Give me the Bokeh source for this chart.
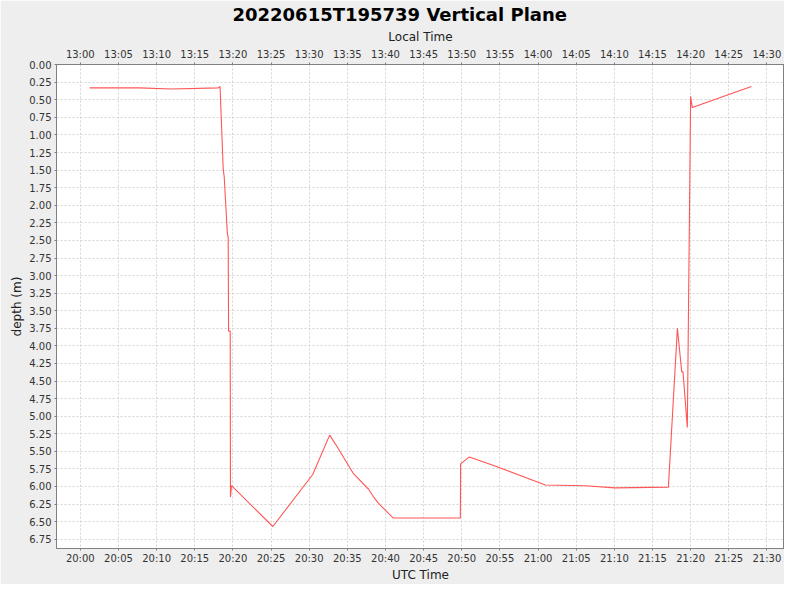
import pandas as pd
from bokeh.plotting import figure
from bokeh.models import (Range1d, DatetimeAxis, SingleIntervalTicker, DatetimeTickFormatter,
                          NumeralTickFormatter, ColumnDataSource)
from bokeh.embed import file_html
from bokeh.resources import INLINE

TITLE = "20220615T195739 Vertical Plane"
DATE = "2022-06-15"
LOCAL_OFFSET_HOURS = -7

utc_times = [
    "20:01:13", "20:07:42", "20:12:00", "20:18:05", "20:18:19", "20:18:44", "20:18:52",
    "20:19:16", "20:19:23", "20:19:26", "20:19:39", "20:19:41", "20:19:49", "20:25:14",
    "20:30:28", "20:32:41", "20:33:41", "20:35:45", "20:37:47", "20:38:31", "20:39:05",
    "20:41:02", "20:49:49", "20:49:51", "20:50:18", "20:50:59", "20:54:22", "21:00:57",
    "21:06:10", "21:10:04", "21:17:05", "21:18:16", "21:18:50", "21:19:00", "21:19:34",
    "21:20:00", "21:20:13", "21:27:58",
]
depths = [
    0.33, 0.33, 0.345, 0.33, 0.31, 1.49, 1.60,
    2.39, 2.46, 3.79, 3.79, 6.15, 5.99, 6.57,
    5.83, 5.27, 5.44, 5.81, 6.04, 6.16, 6.24,
    6.45, 6.45, 5.68, 5.64, 5.58, 5.71, 5.98,
    5.99, 6.02, 6.01, 3.75, 4.37, 4.37, 5.16,
    0.45, 0.61, 0.31,
]

t = pd.to_datetime([f"{DATE} {s}" for s in utc_times])
src = ColumnDataSource(dict(t=t, d=depths))

# auto range with 5% margins like the source chart
t_ms = t.astype("int64") // 10**6
tmin, tmax = int(t_ms.min()), int(t_ms.max())
tpad = 0.05 * (tmax - tmin)
dmin, dmax = min(depths), max(depths)
dpad = 0.05 * (dmax - dmin)
x0, x1 = tmin - tpad, tmax + tpad
off = LOCAL_OFFSET_HOURS * 3600 * 1000

p = figure(width=784, height=584, x_axis_type="datetime",
           x_range=Range1d(x0, x1), y_range=Range1d(dmax + dpad, dmin - dpad),
           output_backend="svg", toolbar_location=None,
           min_border_left=56, min_border_right=0, min_border_top=62, min_border_bottom=30)
p.extra_x_ranges = {"local": Range1d(x0 + off, x1 + off)}

p.border_fill_color = "#eeeeee"
p.background_fill_color = "white"
p.outline_line_color = "#808080"
p.outline_line_width = 1

p.title.text = TITLE
p.title.align = "left"
p.title.text_font = "DejaVu Sans"
p.title.text_font_style = "bold"
p.title.text_font_size = "18px"
p.title.text_color = "black"
p.title.offset = 176
p.title.standoff = 3

fmt = DatetimeTickFormatter(seconds="%H:%M", minsec="%H:%M", minutes="%H:%M",
                            hourmin="%H:%M", hours="%H:%M")

def style_axis(ax):
    ax.axis_line_color = "#808080"
    ax.major_tick_line_color = "#808080"
    ax.minor_tick_line_color = None
    ax.major_tick_in = 0
    ax.major_tick_out = 2
    ax.major_label_standoff = 3
    ax.major_label_text_font = "DejaVu Sans"
    ax.major_label_text_font_size = "10px"
    ax.major_label_text_color = "#333333"
    ax.axis_label_text_font = "DejaVu Sans"
    ax.axis_label_text_font_size = "12px"
    ax.axis_label_text_font_style = "normal"
    ax.axis_label_text_color = "#222222"
    ax.axis_label_standoff = 2

xa = p.xaxis[0]
xa.ticker = SingleIntervalTicker(interval=5 * 60 * 1000, num_minor_ticks=0)
xa.formatter = fmt
xa.axis_label = "UTC Time"
style_axis(xa)
xa.major_label_standoff = 2
xa.axis_label_standoff = 1

top = DatetimeAxis(x_range_name="local", axis_label="Local Time")
top.ticker = SingleIntervalTicker(interval=5 * 60 * 1000, num_minor_ticks=0)
top.formatter = fmt
style_axis(top)
p.add_layout(top, "above")

ya = p.yaxis[0]
ya.ticker = SingleIntervalTicker(interval=0.25, num_minor_ticks=0)
ya.formatter = NumeralTickFormatter(format="0.00")
ya.axis_label = "depth (m)"
style_axis(ya)
ya.axis_label_standoff = 2

p.xgrid.ticker = xa.ticker
p.ygrid.ticker = ya.ticker
for g in (p.xgrid[0], p.ygrid[0]):
    g.grid_line_color = "#d4d4d4"
    g.grid_line_dash = "2 2"
    g.grid_line_width = 1

p.line("t", "d", source=src, line_color="#ff5555", line_width=1.1)

open("out.html", "w").write(file_html(p, INLINE))
